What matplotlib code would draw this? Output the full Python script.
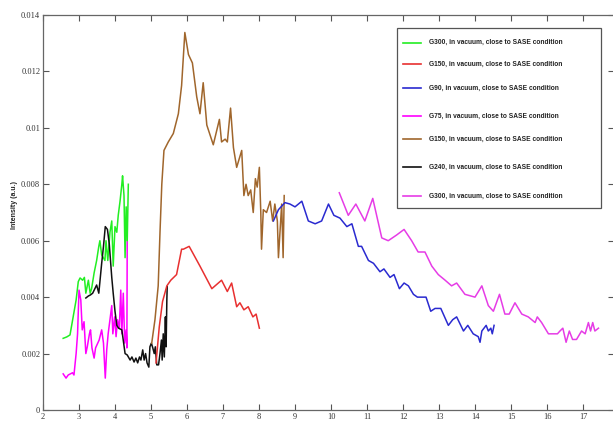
import matplotlib
matplotlib.use('Agg')
import matplotlib.pyplot as plt
from matplotlib.lines import Line2D
from matplotlib.patches import Rectangle

# G300 (green)
g300a_x = [2.56, 2.66, 2.75, 2.92, 2.98, 3.03, 3.10, 3.15, 3.19, 3.26, 3.31, 3.35, 3.42,
           3.49, 3.55, 3.58, 3.63, 3.72, 3.75, 3.80, 3.86, 3.91, 3.95, 4.00, 4.05, 4.09,
           4.14, 4.19, 4.21, 4.25, 4.28, 4.31, 4.34, 4.37]
g300a_y = [0.00254, 0.00259, 0.00266, 0.0039, 0.00455, 0.00468, 0.0046, 0.0047, 0.00414,
           0.0046, 0.00414, 0.0043, 0.00486, 0.0053, 0.0058, 0.0060, 0.0055, 0.0053, 0.0060,
           0.0053, 0.0063, 0.0067, 0.0051, 0.0065, 0.0063, 0.0069, 0.0074, 0.0080, 0.0083,
           0.0076, 0.0054, 0.0072, 0.0060, 0.0080]

# G150 (red)
g150a_x = [5.14, 5.23, 5.32, 5.44, 5.55, 5.71, 5.85, 5.90, 6.06, 6.36, 6.69, 6.96, 7.12,
           7.24, 7.38, 7.47, 7.58, 7.70, 7.83, 7.92, 8.01]
g150a_y = [0.00167, 0.00295, 0.00384, 0.0044, 0.0046, 0.0048, 0.0057, 0.0057, 0.0058,
           0.0051, 0.0043, 0.0046, 0.0042, 0.0045, 0.00366, 0.0038, 0.00355, 0.00366,
           0.0033, 0.0034, 0.0029]

# G90 (blue)
g90_x = [8.40, 8.54, 8.72, 8.86, 9.00, 9.19, 9.37, 9.56, 9.74, 9.93, 10.08, 10.25, 10.44,
         10.58, 10.76, 10.85, 11.04, 11.18, 11.36, 11.47, 11.64, 11.75, 11.90, 12.03, 12.15,
         12.29, 12.40, 12.64, 12.77, 12.89, 13.05, 13.26, 13.38, 13.49, 13.68, 13.80, 13.95,
         14.09, 14.14, 14.19, 14.31, 14.37, 14.44, 14.48, 14.53]
g90_y = [0.0067, 0.0071, 0.00735, 0.0073, 0.0072, 0.0074, 0.0067, 0.0066, 0.0067, 0.0073,
         0.0069, 0.0068, 0.0065, 0.0066, 0.0058, 0.0058, 0.0053, 0.0052, 0.0049, 0.0050,
         0.0047, 0.0048, 0.0043, 0.0045, 0.0044, 0.0041, 0.0040, 0.0040, 0.0035, 0.0036,
         0.0036, 0.0030, 0.0032, 0.0033, 0.0028, 0.0030, 0.0027, 0.0026, 0.0024, 0.0028,
         0.0030, 0.0028, 0.0029, 0.0027, 0.0030]

# G75 (magenta, left)
g75_x = [2.56, 2.64, 2.70, 2.82, 2.86, 2.92, 2.96, 3.00, 3.05, 3.09, 3.14, 3.19, 3.23,
         3.29, 3.32, 3.36, 3.42, 3.46, 3.56, 3.63, 3.68, 3.73, 3.77, 3.81, 3.86, 3.91,
         3.94, 3.99, 4.03, 4.07, 4.12, 4.16, 4.19, 4.23, 4.27, 4.31, 4.33, 4.34]
g75_y = [0.00128, 0.00113, 0.00124, 0.00132, 0.00124, 0.0020, 0.0027, 0.00425, 0.0039,
         0.00284, 0.00313, 0.0020, 0.00224, 0.0027, 0.00284, 0.0022, 0.00184, 0.0022,
         0.00248, 0.00284, 0.00237, 0.00113, 0.00213, 0.0027, 0.0032, 0.0037, 0.0027,
         0.0033, 0.0026, 0.0032, 0.0029, 0.00425, 0.0027, 0.00414, 0.00237, 0.00284,
         0.0022, 0.0063]

# G150 (brown)
g150b_x = [5.02, 5.11, 5.20, 5.25, 5.30, 5.36, 5.48, 5.62, 5.76, 5.85, 5.94, 6.04, 6.15,
           6.27, 6.36, 6.45, 6.55, 6.73, 6.90, 6.96, 7.06, 7.12, 7.21, 7.29, 7.38, 7.52,
           7.58, 7.64, 7.70, 7.77, 7.84, 7.90, 7.95, 8.01, 8.05, 8.07, 8.12, 8.21, 8.31,
           8.38, 8.44, 8.51, 8.54, 8.63, 8.67, 8.70]
g150b_y = [0.00237, 0.0032, 0.0044, 0.0063, 0.0080, 0.0092, 0.0095, 0.0098, 0.0105,
           0.0115, 0.01338, 0.0126, 0.0123, 0.0111, 0.0105, 0.0116, 0.0101, 0.0094,
           0.0103, 0.0095, 0.0096, 0.0095, 0.0107, 0.0093, 0.0086, 0.0092, 0.0076, 0.0080,
           0.0076, 0.0078, 0.0070, 0.0082, 0.0079, 0.0086, 0.0070, 0.0057, 0.0071, 0.0070,
           0.0074, 0.0067, 0.0073, 0.0067, 0.0054, 0.0073, 0.0054, 0.0076]

# G240 (black)
g240_x = [3.19, 3.26, 3.32, 3.38, 3.49, 3.55, 3.63, 3.68, 3.73, 3.79, 3.84, 3.91, 3.95,
          4.00, 4.05, 4.10, 4.19, 4.28, 4.34, 4.42, 4.47, 4.53, 4.58, 4.63, 4.68, 4.72,
          4.77, 4.81, 4.85, 4.89, 4.94, 4.97, 5.01, 5.05, 5.09, 5.12, 5.16, 5.21, 5.25,
          5.29, 5.31, 5.34, 5.37, 5.40, 5.42, 5.44, 5.45]
g240_y = [0.00397, 0.00404, 0.00408, 0.00414, 0.00443, 0.00414, 0.0052, 0.0058, 0.0065,
          0.0064, 0.0059, 0.0047, 0.00414, 0.0035, 0.0030, 0.0029, 0.00284, 0.0020,
          0.00195, 0.00177, 0.00188, 0.0017, 0.00184, 0.00167, 0.00188, 0.00177, 0.00213,
          0.00177, 0.0020, 0.00167, 0.00152, 0.00224, 0.00237, 0.0022, 0.0020, 0.00224,
          0.0016, 0.0016, 0.0020, 0.00248, 0.00177, 0.0027, 0.00188, 0.0033, 0.00224,
          0.0039, 0.00437]

# G300 (magenta, right)
g300b_x = [10.23, 10.48, 10.69, 10.94, 11.16, 11.41, 11.59, 11.82, 12.03, 12.24, 12.42,
           12.61, 12.80, 12.98, 13.17, 13.35, 13.49, 13.72, 14.00, 14.19, 14.37, 14.51,
           14.68, 14.83, 14.95, 15.11, 15.30, 15.48, 15.67, 15.73, 15.85, 16.04, 16.17,
           16.29, 16.36, 16.44, 16.53, 16.62, 16.71, 16.82, 16.96, 17.06, 17.15, 17.21,
           17.27, 17.33, 17.43]
g300b_y = [0.0077, 0.0069, 0.0073, 0.0067, 0.0075, 0.0061, 0.0060, 0.0062, 0.0064, 0.0060,
           0.0056, 0.0056, 0.0051, 0.0048, 0.0046, 0.0044, 0.0045, 0.0041, 0.0040, 0.0044,
           0.0037, 0.0035, 0.0041, 0.0034, 0.0034, 0.0038, 0.0034, 0.0033, 0.0031, 0.0033,
           0.0031, 0.0027, 0.0027, 0.0027, 0.0028, 0.0029, 0.0024, 0.0028, 0.0025, 0.0025,
           0.0028, 0.0027, 0.0031, 0.0028, 0.0031, 0.0028, 0.0029]

labels = ['G300, in vacuum, close to SASE condition',
          'G150, in vacuum, close to SASE condition',
          'G90, in vacuum, close to SASE condition',
          'G75, in vacuum, close to SASE condition',
          'G150, in vacuum, close to SASE condition',
          'G240, in vacuum, close to SASE condition',
          'G300, in vacuum, close to SASE condition']
colors = ['#22ee22', '#e83030', '#2a2ad0', '#ff00ff', '#a0662c', '#111111', '#e63ce6']
series = [(g300a_x, g300a_y), (g150a_x, g150a_y), (g90_x, g90_y), (g75_x, g75_y),
          (g150b_x, g150b_y), (g240_x, g240_y), (g300b_x, g300b_y)]

xticks = list(range(2, 18))
yticks = [0, 0.002, 0.004, 0.006, 0.008, 0.01, 0.012, 0.014]
ytick_labels = ['0', '0.002', '0.004', '0.006', '0.008', '0.01', '0.012', '0.014']

W, H = 613, 422
fig = plt.figure(figsize=(W / 100, H / 100), dpi=100)
ax = fig.add_axes([43 / W, 12 / H, (614 - 43) / W, (410 - 15) / H])

# draw order so overlaps look like the original
draw_order = [3, 0, 5, 1, 4, 2, 6]
for i in draw_order:
    xs, ys = series[i]
    ax.plot(xs, ys, color=colors[i], linewidth=1.1)

ax.set_xlim(2, 2 + (614 - 43) / 36.0)
ax.set_ylim(0, 0.014)
ax.set_xticks(xticks)
ax.set_xticklabels([str(t) for t in xticks])
ax.set_yticks(yticks)
ax.set_yticklabels(ytick_labels)
ax.tick_params(direction='in', top=True, right=True, length=4, width=0.8,
               colors='#555555', labelcolor='#333333', labelsize=6, pad=2)
for lab in ax.get_xticklabels() + ax.get_yticklabels():
    lab.set_family('Liberation Serif')
for sp in ax.spines.values():
    sp.set_color('#666666')
    sp.set_linewidth(0.9)

narrow = ['Liberation Sans', 'DejaVu Sans']
fig.text(14 / W, 1 - 205 / H, 'Intensity (a.u.)', rotation=90, ha='center', va='center',
         fontsize=5, fontweight='bold', color='#222222', family=narrow)

# legend box
fig.add_artist(Rectangle((397 / W, 1 - 208 / H), (601 - 397) / W, (208 - 28) / H,
                         transform=fig.transFigure, facecolor='white',
                         edgecolor='#555555', linewidth=0.9, zorder=5))
entry_y = [42.7, 64, 88, 116, 139, 167, 196]
for lab, col, ey in zip(labels, colors, entry_y):
    fy = 1 - ey / H
    fig.add_artist(Line2D([403 / W, 421 / W], [fy, fy], transform=fig.transFigure,
                          color=col, linewidth=1.2, zorder=6))
    fig.text(429 / W, fy, lab, ha='left', va='center', fontsize=4.8, fontweight='bold',
             color='#222222', family=narrow, zorder=6)

fig.savefig('out.png', dpi=100)
